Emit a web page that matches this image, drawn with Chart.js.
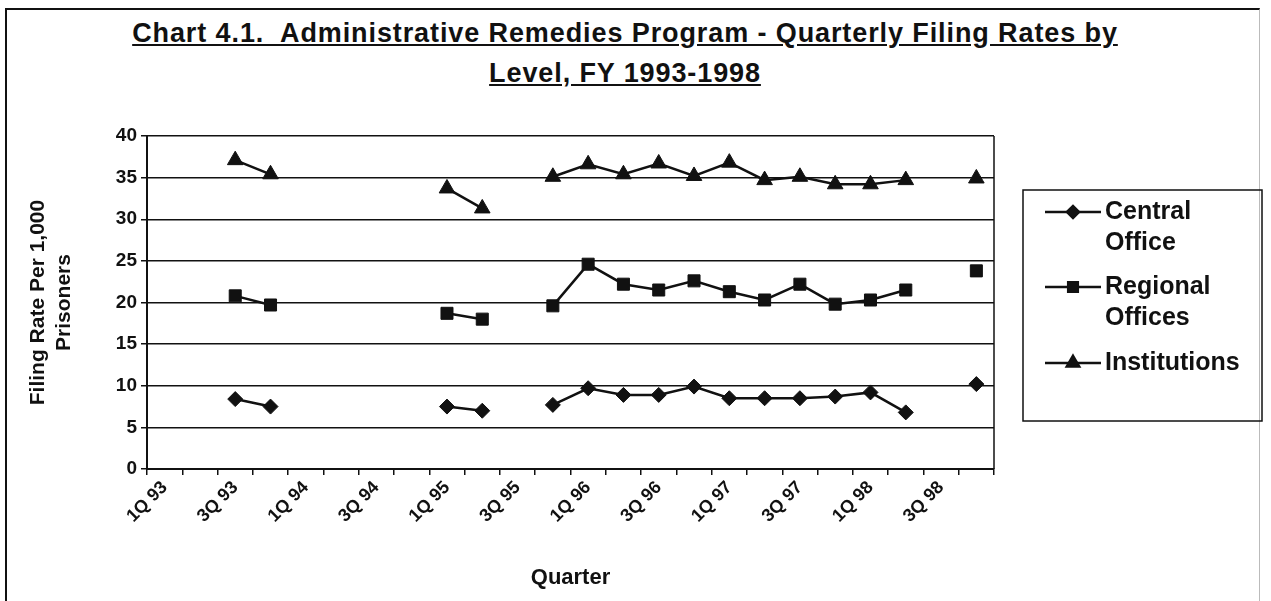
<!DOCTYPE html>
<html>
<head>
<meta charset="utf-8">
<script src="https://cdn.jsdelivr.net/npm/chart.js@4.4.0/dist/chart.umd.min.js"></script>
<style>
    body { margin: 0; background: #fff; font-family: "Liberation Sans", Arial, sans-serif; }
    #marco { position: absolute; left: 5px; top: 8px; width: 1252px; height: 600px;
             border-left: 2px solid #111; border-top: 2px solid #111; border-right: 1px solid #bbb; }
    #titulo { position: absolute; left: 0; top: 13px; width: 1250px; text-align: center;
              font-weight: bold; font-size: 27px; letter-spacing: 0.9px; line-height: 40px;
              text-decoration: underline; color: #111; }
    #contenedor { position: absolute; left: 0; top: 0; width: 1271px; height: 601px; }
</style>
</head>
<body>
<div id="marco"></div>
<div id="titulo">Chart 4.1.&nbsp; Administrative Remedies Program - Quarterly Filing Rates by<br>Level, FY 1993-1998</div>
<div id="contenedor"><canvas id="grafico"></canvas></div>
<script>
// Trimestres (categorías del eje X)
const trimestres = ['1Q 93', '2Q 93', '3Q 93', '4Q 93', '1Q 94', '2Q 94', '3Q 94', '4Q 94',
    '1Q 95', '2Q 95', '3Q 95', '4Q 95', '1Q 96', '2Q 96', '3Q 96', '4Q 96',
    '1Q 97', '2Q 97', '3Q 97', '4Q 97', '1Q 98', '2Q 98', '3Q 98', '4Q 98'];

// Tasas por cada 1,000 presos (null = sin dato)
const centralOffice = [null, null, 8.4, 7.5, null, null, null, null, 7.5, 7.0, null, 7.7,
    9.7, 8.9, 8.9, 9.9, 8.5, 8.5, 8.5, 8.7, 9.2, 6.8, null, 10.2];
const regionalOffices = [null, null, 20.8, 19.7, null, null, null, null, 18.7, 18.0, null, 19.6,
    24.6, 22.2, 21.5, 22.6, 21.3, 20.3, 22.2, 19.8, 20.3, 21.5, null, 23.8];
const institutions = [null, null, 37.1, 35.4, null, null, null, null, 33.7, 31.3, null, 35.1,
    36.6, 35.4, 36.7, 35.2, 36.8, 34.7, 35.1, 34.2, 34.2, 34.7, null, 34.9];

const ticksY = [0, 5, 10, 15, 20, 25, 30, 35, 40];

const negro = '#111';
const fuente = '"Liberation Sans", Arial, sans-serif';

// Leyenda con caja y etiquetas de dos líneas
const leyenda = {
    id: 'leyenda',
    afterDraw(chart) {
        const ctx = chart.ctx;
        ctx.save();
        ctx.strokeStyle = negro;
        ctx.lineWidth = 1.5;
        ctx.strokeRect(1023, 190, 239, 231);
        const filas = [
            { ds: 0, y: 212, texto: ['Central', 'Office'] },
            { ds: 1, y: 287, texto: ['Regional', 'Offices'] },
            { ds: 2, y: 363, texto: ['Institutions'] }
        ];
        filas.forEach(f => {
            const ds = chart.data.datasets[f.ds];
            ctx.strokeStyle = negro;
            ctx.lineWidth = 2.5;
            ctx.beginPath();
            ctx.moveTo(1045, f.y);
            ctx.lineTo(1101, f.y);
            ctx.stroke();
            ctx.fillStyle = negro;
            Chart.helpers.drawPoint(ctx, {
                pointStyle: ds.pointStyle,
                radius: ds.pointRadius * 0.8,
                rotation: 0,
                borderWidth: 1
            }, 1073, f.y);
            ctx.fill();
            ctx.font = 'bold 25px ' + fuente;
            ctx.textBaseline = 'middle';
            ctx.textAlign = 'left';
            f.texto.forEach((t, i) => ctx.fillText(t, 1105, f.y + i * 31));
        });
        // borde derecho del área de trazado
        const a = chart.chartArea;
        ctx.strokeStyle = negro;
        ctx.lineWidth = 1.5;
        ctx.beginPath();
        ctx.moveTo(a.right, a.top);
        ctx.lineTo(a.right, a.bottom);
        ctx.stroke();
        ctx.restore();
    }
};

const comun = {
    borderColor: negro,
    backgroundColor: negro,
    pointBackgroundColor: negro,
    pointBorderColor: negro,
    borderWidth: 2.5,
    pointBorderWidth: 1,
    fill: false,
    spanGaps: false,
    tension: 0
};

const ctx = document.getElementById('grafico').getContext('2d');
const grafico = new Chart(ctx, {
    type: 'line',
    data: {
        labels: trimestres,
        datasets: [
            { ...comun, label: 'Central Office', data: centralOffice, pointStyle: 'rectRot', pointRadius: 7.5 },
            { ...comun, label: 'Regional Offices', data: regionalOffices, pointStyle: 'rect', pointRadius: 8.5 },
            { ...comun, label: 'Institutions', data: institutions, pointStyle: 'triangle', pointRadius: 9 }
        ]
    },
    options: {
        responsive: true,
        maintainAspectRatio: false,
        animation: false,
        layout: { padding: { left: 0, top: 136, right: 277, bottom: 0 } },
        plugins: {
            legend: { display: false },
            tooltip: { enabled: false }
        },
        scales: {
            x: {
                type: 'category',
                offset: true,
                afterFit(scale) { scale.height = 132; },
                grid: { display: true, drawOnChartArea: false, drawTicks: true, tickLength: 6,
                        offset: true, color: negro, lineWidth: 1.5 },
                border: { display: true, color: negro, width: 2 },
                ticks: {
                    autoSkip: false,
                    maxRotation: 45,
                    minRotation: 45,
                    padding: 2,
                    color: negro,
                    font: { family: fuente, size: 18, weight: 'bold' },
                    callback: function (valor, i) { return i % 2 === 0 ? trimestres[i] : ''; }
                },
                title: {
                    display: true,
                    text: 'Quarter',
                    color: negro,
                    padding: { top: 4, bottom: 10 },
                    font: { family: fuente, size: 22, weight: 'bold' }
                }
            },
            y: {
                min: 0,
                max: 40,
                afterFit(scale) { scale.width = 147; },
                afterBuildTicks(scale) { scale.ticks = ticksY.map(v => ({ value: v })); },
                grid: { color: negro, lineWidth: 1.5, tickLength: 6, drawTicks: true },
                border: { display: true, color: negro, width: 2 },
                ticks: {
                    padding: 4,
                    color: negro,
                    font: { family: fuente, size: 19, weight: 'bold' }
                },
                title: {
                    display: true,
                    text: ['Filing Rate Per 1,000', 'Prisoners'],
                    color: negro,
                    padding: { top: 26, bottom: 0 },
                    font: { family: fuente, size: 21, weight: 'bold' }
                }
            }
        }
    },
    plugins: [leyenda]
});
</script>
</body>
</html>
